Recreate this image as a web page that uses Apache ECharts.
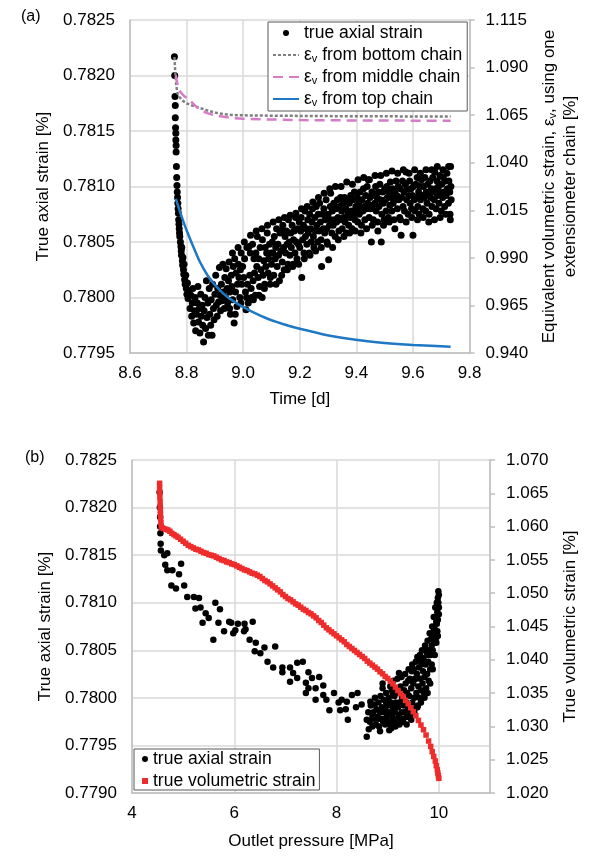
<!DOCTYPE html>
<html><head><meta charset="utf-8">
<script src="https://cdn.jsdelivr.net/npm/echarts@6/dist/echarts.min.js"></script>
<style>html,body{margin:0;padding:0;background:#fff}#c{width:589px;height:856px}</style>
</head><body><div id="c"></div>
<script>
const FONT = '"Liberation Sans", Arial, sans-serif';

// ---- tick labels ----
const timeTicks = [8.6, 8.8, 9.0, 9.2, 9.4, 9.6, 9.8];
const axialTicksA = [0.7795, 0.7800, 0.7805, 0.7810, 0.7815, 0.7820, 0.7825];
const volTicksA = [0.940, 0.965, 0.990, 1.015, 1.040, 1.065, 1.090, 1.115];
const pressureTicks = [4, 6, 8, 10, 11];
const axialTicksB = [0.7790, 0.7795, 0.7800, 0.7805, 0.7810, 0.7815, 0.7820, 0.7825];
const volTicksB = [1.020, 1.025, 1.030, 1.035, 1.040, 1.045, 1.050, 1.055, 1.060, 1.065, 1.070];

// ---- (a) true axial strain vs time [d, %] ----
const axialVsTime = [
[8.757,0.78217],[8.758,0.78200],[8.759,0.78181],[8.760,0.78173],[8.760,0.78162],[8.761,0.78153],[8.762,0.78148],[8.762,0.78142],[8.763,0.78137],[8.763,0.78131],[8.764,0.78118],[8.765,0.78108],[8.766,0.78101],[8.767,0.78095],[8.768,0.78090],[8.769,0.78085],[8.770,0.78080],[8.771,0.78076],[8.772,0.78070],[8.773,0.78066],[8.774,0.78062],[8.775,0.78058],[8.776,0.78055],
[8.778,0.78050],[8.780,0.78046],[8.781,0.78042],[8.782,0.78038],[8.783,0.78045],[8.785,0.78033],[8.786,0.78029],[8.787,0.78036],[8.789,0.78025],[8.790,0.78021],[8.791,0.78030],[8.793,0.78016],[8.795,0.78012],[8.797,0.78020],[8.799,0.78008],[8.801,0.78003],[8.803,0.78013],[8.805,0.77999],[8.807,0.78006],
[8.812,0.77990],[8.815,0.78002],[8.818,0.77983],[8.820,0.77995],[8.822,0.78008],[8.825,0.77977],[8.828,0.77988],[8.830,0.78000],[8.832,0.77970],[8.835,0.77985],[8.838,0.77995],[8.840,0.78010],[8.842,0.77978],[8.845,0.77990],[8.847,0.77968],[8.850,0.78003],[8.852,0.77983],[8.855,0.77993],[8.857,0.77975],[8.860,0.77960],[8.862,0.77988],[8.865,0.78000],[8.867,0.77972],[8.870,0.78015],[8.872,0.77982],[8.875,0.77995],[8.877,0.77966],[8.880,0.78008],[8.882,0.77985],[8.885,0.77975],[8.887,0.77998],[8.890,0.77966],[8.892,0.78012],[8.895,0.77990],[8.897,0.77980],[8.900,0.78003],[8.903,0.78020],[8.905,0.77993],[8.908,0.77983],[8.910,0.78008],[8.913,0.77996],[8.916,0.78027],[8.918,0.78002],[8.920,0.77988],[8.923,0.78012],[8.925,0.77997],[8.928,0.78030],[8.930,0.78005],[8.933,0.77990],[8.935,0.78018],[8.938,0.78000],[8.940,0.78026],[8.943,0.78008],[8.945,0.77995],[8.948,0.78015],[8.950,0.78032],[8.953,0.78005],[8.955,0.77985],[8.958,0.78020],[8.960,0.78010],[8.963,0.77998],[8.965,0.78028],[8.968,0.77977],[8.970,0.78035],[8.973,0.78005],[8.975,0.78022],[8.978,0.77992],[8.980,0.78012],[8.983,0.78030],[8.985,0.78018],[8.988,0.78000],[8.990,0.78025],[8.993,0.78040],[8.995,0.78012],[8.998,0.78028],
[9.002,0.78018],[9.005,0.78035],[9.008,0.78005],[9.010,0.77989],[9.013,0.78045],[9.015,0.78012],[9.018,0.77995],[9.021,0.78046],[9.023,0.78020],[9.025,0.78040],[9.028,0.78008],[9.030,0.78000],[9.033,0.78048],[9.035,0.78015],[9.038,0.78035],[9.040,0.78022],[9.043,0.78002],[9.045,0.78040],[9.048,0.78028],[9.050,0.78055],[9.053,0.78018],[9.055,0.78035],[9.058,0.78010],[9.060,0.78045],[9.063,0.78025],[9.067,0.78000],[9.068,0.78052],[9.070,0.78020],[9.073,0.78033],[9.075,0.78008],[9.078,0.78045],[9.080,0.78028],[9.083,0.78040],[9.085,0.78058],[9.088,0.78022],[9.090,0.78035],[9.093,0.78048],[9.095,0.78012],[9.098,0.78040],
[9.100,0.78030],[9.103,0.78050],[9.105,0.78040],[9.108,0.78020],[9.110,0.78055],[9.113,0.78035],[9.115,0.78045],[9.118,0.78062],[9.120,0.78028],[9.123,0.78048],[9.125,0.78038],[9.128,0.78015],[9.130,0.78058],[9.133,0.78042],[9.137,0.78060],[9.138,0.78032],[9.140,0.78065],[9.143,0.78045],[9.145,0.78025],[9.148,0.78055],[9.150,0.78040],[9.153,0.78060],[9.155,0.78048],[9.158,0.78030],[9.160,0.78070],[9.161,0.78028],[9.163,0.78050],[9.165,0.78038],[9.168,0.78058],[9.170,0.78045],[9.173,0.78065],[9.175,0.78028],[9.178,0.78052],[9.180,0.78060],[9.183,0.78040],[9.185,0.78072],[9.188,0.78050],[9.190,0.78035],[9.193,0.78062],[9.195,0.78048],[9.198,0.78068],
[9.200,0.78045],[9.203,0.78060],[9.205,0.78072],[9.207,0.78018],[9.210,0.78052],[9.213,0.78065],[9.215,0.78040],[9.218,0.78078],[9.220,0.78055],[9.223,0.78062],[9.225,0.78048],[9.228,0.78070],[9.230,0.78058],[9.233,0.78040],[9.235,0.78075],[9.238,0.78062],[9.240,0.78050],[9.243,0.78068],[9.245,0.78080],[9.248,0.78055],[9.250,0.78045],[9.253,0.78072],[9.255,0.78060],[9.258,0.78082],[9.260,0.78065],[9.263,0.78050],[9.265,0.78075],[9.268,0.78060],[9.270,0.78085],[9.273,0.78068],[9.275,0.78052],[9.277,0.78028],[9.280,0.78075],[9.283,0.78062],[9.285,0.78080],[9.288,0.78058],[9.290,0.78070],[9.293,0.78088],[9.295,0.78062],[9.298,0.78048],[9.300,0.78075],[9.302,0.78034],[9.305,0.78065],[9.308,0.78082],[9.309,0.78094],[9.310,0.78070],[9.313,0.78058],[9.315,0.78078],[9.318,0.78065],[9.320,0.78085],[9.323,0.78070],[9.325,0.78055],[9.328,0.78080],[9.330,0.78068],[9.333,0.78088],[9.335,0.78072],[9.338,0.78060],[9.340,0.78082],[9.344,0.78090],[9.345,0.78070],[9.348,0.78078],[9.350,0.78062],[9.353,0.78085],[9.355,0.78072],[9.358,0.78090],[9.360,0.78068],[9.363,0.78080],[9.365,0.78058],[9.368,0.78088],[9.370,0.78075],[9.373,0.78065],[9.375,0.78085],[9.378,0.78072],[9.380,0.78092],[9.383,0.78078],[9.385,0.78062],[9.388,0.78088],[9.390,0.78075],[9.393,0.78095],[9.395,0.78070],[9.398,0.78082],
[9.400,0.78078],[9.403,0.78090],[9.405,0.78068],[9.408,0.78085],[9.410,0.78075],[9.413,0.78095],[9.415,0.78080],[9.418,0.78065],[9.420,0.78088],[9.423,0.78078],[9.425,0.78098],[9.428,0.78082],[9.430,0.78070],[9.433,0.78092],[9.435,0.78080],[9.438,0.78100],[9.440,0.78085],[9.442,0.78106],[9.445,0.78072],[9.448,0.78090],[9.450,0.78080],[9.453,0.78050],[9.455,0.78095],[9.458,0.78083],[9.460,0.78070],[9.463,0.78092],[9.465,0.78085],[9.468,0.78100],[9.470,0.78078],[9.473,0.78090],[9.475,0.78068],[9.478,0.78095],[9.480,0.78082],[9.483,0.78102],[9.485,0.78088],[9.488,0.78050],[9.490,0.78075],[9.493,0.78095],[9.495,0.78085],[9.498,0.78070],[9.500,0.78098],[9.503,0.78088],[9.505,0.78078],[9.508,0.78100],[9.510,0.78090],[9.513,0.78072],[9.515,0.78095],[9.518,0.78083],[9.520,0.78104],[9.523,0.78090],[9.525,0.78078],[9.528,0.78098],[9.530,0.78085],[9.533,0.78070],[9.535,0.78095],[9.538,0.78088],[9.540,0.78105],[9.543,0.78092],[9.545,0.78080],[9.548,0.78100],[9.550,0.78088],[9.553,0.78072],[9.555,0.78098],[9.558,0.78056],[9.560,0.78090],[9.563,0.78105],[9.565,0.78082],[9.568,0.78095],[9.570,0.78078],[9.573,0.78102],[9.575,0.78113],[9.578,0.78088],[9.580,0.78098],[9.583,0.78075],[9.585,0.78092],[9.588,0.78105],[9.590,0.78085],[9.593,0.78098],[9.595,0.78080],[9.598,0.78092],
[9.600,0.78056],[9.602,0.78100],[9.605,0.78088],[9.607,0.78078],[9.610,0.78102],[9.612,0.78090],[9.615,0.78108],[9.617,0.78082],[9.620,0.78095],[9.622,0.78075],[9.625,0.78100],[9.627,0.78088],[9.630,0.78106],[9.632,0.78092],[9.635,0.78080],[9.637,0.78100],[9.640,0.78090],[9.642,0.78108],[9.645,0.78078],[9.647,0.78095],[9.650,0.78085],[9.652,0.78102],[9.655,0.78092],[9.657,0.78075],[9.660,0.78105],[9.662,0.78090],[9.665,0.78098],[9.667,0.78082],[9.670,0.78108],[9.672,0.78095],[9.675,0.78088],[9.677,0.78113],[9.680,0.78098],[9.682,0.78080],[9.685,0.78105],[9.687,0.78092],[9.690,0.78100],[9.692,0.78085],[9.695,0.78110],[9.697,0.78095],[9.700,0.78078],[9.702,0.78102],[9.705,0.78090],[9.707,0.78108],[9.710,0.78095],[9.712,0.78082],[9.715,0.78105],[9.717,0.78092],[9.720,0.78112],[9.722,0.78098],[9.725,0.78085],[9.727,0.78105],[9.730,0.78095],[9.731,0.78075],[9.733,0.78118],[9.734,0.78100],[9.735,0.78088],
[8.952,0.77990],[8.962,0.78040],[8.972,0.77985],[8.982,0.78045],[8.992,0.77995],[9.004,0.78050],[9.012,0.78000],[9.026,0.78056],[9.036,0.77998],[9.046,0.78060],[9.056,0.78002],[9.066,0.78062],[9.076,0.78012],[9.086,0.78065],[9.096,0.78018],[9.106,0.78068],[9.116,0.78012],[9.126,0.78070],[9.136,0.78020],[9.146,0.78072],[9.156,0.78025],[9.166,0.78074],[9.176,0.78030],[9.186,0.78076],[9.196,0.78030],[9.206,0.78080],[9.216,0.78035],[9.226,0.78082],[9.236,0.78038],[9.246,0.78086],[9.256,0.78042],[9.266,0.78090],[9.276,0.78045],[9.286,0.78094],[9.296,0.78050],[9.306,0.78098],[9.316,0.78045],[9.326,0.78100],[9.336,0.78052],[9.346,0.78100],[9.356,0.78055],[9.366,0.78104],[9.376,0.78058],[9.386,0.78102],[9.396,0.78060],[9.406,0.78106],[9.416,0.78058],[9.426,0.78108],[9.436,0.78062],[9.446,0.78106],[9.456,0.78065],[9.466,0.78110],[9.476,0.78060],[9.486,0.78110],[9.496,0.78065],[9.506,0.78112],[9.516,0.78068],[9.526,0.78114],[9.536,0.78062],[9.546,0.78112],[9.556,0.78070],[9.566,0.78115],[9.576,0.78068],[9.586,0.78112],[9.596,0.78072],[9.606,0.78115],[9.616,0.78070],[9.626,0.78112],[9.636,0.78072],[9.646,0.78115],[9.656,0.78068],[9.666,0.78115],[9.676,0.78070],[9.686,0.78118],[9.696,0.78072],[9.706,0.78115],[9.716,0.78075],[9.726,0.78118],[9.732,0.78070]
];

// ---- (a) equivalent volumetric strain from one chain [d, %] ----
const bottomChain = [[8.757,1.0955],[8.759,1.0900],[8.761,1.0850],[8.764,1.0800],[8.768,1.0765],[8.775,1.0745],[8.787,1.0725],[8.800,1.0712],[8.820,1.0700],[8.846,1.0688],[8.875,1.0674],[8.905,1.0662],[8.935,1.0655],[8.960,1.0651],[9.000,1.0649],[9.100,1.0647],[9.200,1.0646],[9.300,1.0645],[9.400,1.0644],[9.500,1.0644],[9.600,1.0643],[9.733,1.0643]];
const middleChain = [[8.762,1.0860],[8.765,1.0830],[8.770,1.0800],[8.778,1.0772],[8.790,1.0752],[8.810,1.0730],[8.830,1.0700],[8.850,1.0677],[8.870,1.0662],[8.900,1.0648],[8.960,1.0635],[9.000,1.0631],[9.100,1.0627],[9.200,1.0624],[9.300,1.0623],[9.400,1.0622],[9.500,1.0622],[9.600,1.0621],[9.733,1.0621]];
const topChain = [[8.762,1.0210],[8.775,1.0150],[8.790,1.0085],[8.800,1.0045],[8.820,0.9972],[8.846,0.9882],[8.875,0.9806],[8.905,0.9750],[8.930,0.9712],[8.960,0.9678],[9.000,0.9641],[9.040,0.9611],[9.080,0.9584],[9.120,0.9562],[9.160,0.9543],[9.200,0.9527],[9.280,0.9499],[9.360,0.9478],[9.440,0.9462],[9.520,0.9450],[9.600,0.9442],[9.733,0.9433]];

// ---- (b) true axial strain vs outlet pressure [MPa, %] ----
const axialVsPressure = [
[4.540,0.78216],[4.545,0.78200],[4.550,0.78190],[4.550,0.78180],[4.555,0.78173],[4.560,0.78162],[4.565,0.78155],[4.630,0.78150],[4.690,0.78152],[4.650,0.78140],[4.690,0.78134],[4.790,0.78134],[4.960,0.78141],[4.920,0.78130],[4.770,0.78118],[4.860,0.78115],[5.020,0.78118],[5.080,0.78106],[5.210,0.78106],[5.310,0.78105],[5.240,0.78094],[5.340,0.78095],[5.440,0.78089],[5.500,0.78084],[5.630,0.78100],[5.720,0.78093],[5.380,0.78079],[5.690,0.78079],[5.900,0.78080],[5.940,0.78079],[6.070,0.78078],[6.200,0.78078],[6.360,0.78080],[6.020,0.78071],[6.190,0.78070],[5.590,0.78061],[5.800,0.78070],[5.980,0.78068],[6.220,0.78072],[6.300,0.78061],[6.420,0.78058],[6.590,0.78053],[6.800,0.78054],[6.400,0.78049],[6.510,0.78047],[6.650,0.78038],[6.760,0.78032],[6.940,0.78032],[7.090,0.78032],[7.230,0.78037],[7.340,0.78038],[6.940,0.78027],[7.150,0.78026],[7.230,0.78021],[7.090,0.78017],[7.450,0.78027],[7.520,0.78021],[7.400,0.78016],[7.660,0.78022],[7.450,0.78010],[7.590,0.78010],[7.740,0.78013],[7.400,0.78005],[7.590,0.77998],[7.800,0.77998],[7.740,0.78003],[7.950,0.78005],[7.860,0.77987],[8.040,0.77995],[8.100,0.77998],[8.200,0.77996],[8.300,0.78003],[8.410,0.78005],[8.070,0.77987],[8.180,0.77988],[8.380,0.77990],[8.220,0.77977],[8.490,0.77993],[8.660,0.77996],[8.590,0.77977],[8.630,0.77967],[8.590,0.77959],[8.700,0.77980],[8.820,0.77978],[9.030,0.77966],[8.900,0.78010],[8.970,0.77995],[8.740,0.77993],[9.100,0.78005],[9.220,0.78026],[9.250,0.77995],[9.390,0.77987],[9.460,0.77977],[9.560,0.77990],[9.260,0.77977],
[8.620,0.77985],[8.650,0.77975],[8.670,0.77992],[8.700,0.77970],[8.720,0.77985],[8.740,0.77978],[8.750,0.78000],[8.770,0.77972],[8.780,0.77988],[8.800,0.77980],[8.820,0.77995],[8.830,0.77970],[8.850,0.77985],[8.860,0.78002],[8.880,0.77978],[8.890,0.77990],[8.910,0.77975],[8.920,0.77998],[8.940,0.77985],[8.950,0.77972],[8.970,0.78005],[8.980,0.77980],[9.000,0.77992],
[9.010,0.77975],[9.020,0.78000],[9.040,0.77985],[9.050,0.77972],[9.060,0.77995],[9.080,0.78008],[9.090,0.77980],[9.100,0.77990],[9.120,0.77975],[9.130,0.78002],[9.140,0.77985],[9.160,0.77995],[9.170,0.78010],[9.180,0.77978],[9.200,0.77990],[9.210,0.78005],[9.220,0.77982],[9.240,0.77995],[9.250,0.78012],[9.270,0.77985],[9.280,0.78000],[9.290,0.77978],[9.310,0.77992],[9.320,0.78008],[9.330,0.77985],[9.350,0.78015],[9.360,0.77995],[9.370,0.77980],[9.380,0.78005],[9.400,0.78018],[9.410,0.77990],
[9.420,0.78002],[9.430,0.78020],[9.450,0.77985],[9.460,0.78010],[9.470,0.78028],[9.480,0.77995],[9.500,0.78015],[9.510,0.78030],[9.520,0.78000],[9.530,0.78020],[9.550,0.78038],[9.560,0.78005],[9.570,0.78025],[9.580,0.78043],[9.590,0.77992],[9.600,0.78012],[9.610,0.78032],[9.620,0.78000],[9.630,0.78045],[9.640,0.78020],[9.650,0.78008],[9.660,0.78035],[9.670,0.78050],[9.680,0.78015],[9.690,0.78028],[9.700,0.78042],[9.710,0.78005],[9.720,0.78022],[9.730,0.78055],[9.740,0.78035],[9.750,0.78010],[9.760,0.78048],[9.770,0.78025],[9.780,0.78060],[9.790,0.78038],[9.800,0.78018],
[9.810,0.78050],[9.820,0.78068],[9.830,0.78030],[9.840,0.78045],[9.850,0.78062],[9.860,0.78035],[9.870,0.78075],[9.880,0.78050],[9.890,0.78065],[9.900,0.78085],[9.910,0.78058],[9.920,0.78072],[9.930,0.78095],[9.940,0.78062],[9.950,0.78080],[9.960,0.78100],[9.970,0.78070],[9.970,0.78090],[9.980,0.78105],[9.980,0.78082],[9.990,0.78112],[9.990,0.78095],[10.000,0.78108],[10.000,0.78088],
[8.850,0.77965],[8.900,0.78015],[8.950,0.77988],[9.050,0.78012],[9.070,0.77968],[9.110,0.78018],[9.150,0.77970],[9.190,0.78020],[9.230,0.77972],[9.270,0.78022],[9.300,0.77975],[9.340,0.78025],[9.370,0.77972],[9.410,0.78030],[9.440,0.77980],[9.480,0.78035],[9.520,0.77985],[9.550,0.78020],[9.580,0.77990],[9.620,0.78040],[9.650,0.77995],[9.680,0.78040],[9.720,0.78000],[9.750,0.78050],[9.780,0.78005],[9.800,0.78045],[9.830,0.78015],[9.860,0.78055],[9.880,0.78030],[9.900,0.78070],[9.920,0.78045],[9.940,0.78085],[9.950,0.78058],[9.960,0.78078],[9.970,0.78100],[9.980,0.78065],[9.990,0.78100],[10.000,0.78095]
];

// ---- (b) true volumetric strain vs outlet pressure [MPa, %] ----
const volVsPressure = [
[4.540,1.0665],[4.540,1.0658],[4.545,1.0651],[4.545,1.0644],[4.550,1.0637],[4.550,1.0630],[4.555,1.0624],[4.555,1.0618],[4.560,1.0612],[4.565,1.0606],[4.570,1.0601],[4.590,1.0598],[4.620,1.0597],[4.660,1.0596],[4.700,1.0595],[4.740,1.0593],[4.780,1.0590],[4.820,1.0588],[4.860,1.0586],[4.900,1.0584],[4.950,1.0581],[5.000,1.0578],[5.050,1.0575],[5.100,1.0572],[5.150,1.0570],[5.200,1.0568],[5.250,1.0566],[5.300,1.0565],[5.350,1.0563],[5.400,1.0561],[5.450,1.0560],[5.500,1.0558],[5.550,1.0557],[5.600,1.0556],[5.650,1.0554],[5.700,1.0552],[5.750,1.0550],[5.800,1.0549],[5.850,1.0547],[5.900,1.0546],[5.950,1.0544],[6.000,1.0543],[6.050,1.0541],[6.100,1.0539],[6.150,1.0537],[6.200,1.0535],[6.250,1.0534],[6.300,1.0532],[6.350,1.0530],[6.400,1.0529],[6.450,1.0527],[6.500,1.0525],[6.550,1.0522],[6.600,1.0519],[6.650,1.0517],[6.700,1.0514],[6.750,1.0511],[6.800,1.0508],[6.850,1.0505],[6.900,1.0502],[6.950,1.0498],[7.000,1.0495],[7.050,1.0492],[7.100,1.0490],[7.150,1.0487],[7.200,1.0484],[7.250,1.0482],[7.300,1.0479],[7.350,1.0476],[7.400,1.0474],[7.450,1.0471],[7.500,1.0469],[7.550,1.0466],[7.600,1.0463],[7.650,1.0459],[7.700,1.0456],[7.750,1.0452],[7.800,1.0448],[7.850,1.0445],[7.900,1.0442],[7.950,1.0439],[8.000,1.0436],[8.050,1.0433],[8.100,1.0430],[8.150,1.0427],[8.200,1.0423],[8.250,1.0420],[8.300,1.0417],[8.350,1.0414],[8.400,1.0411],[8.450,1.0408],[8.500,1.0405],[8.550,1.0402],[8.600,1.0398],[8.650,1.0395],[8.700,1.0392],[8.750,1.0389],[8.800,1.0386],[8.850,1.0382],[8.900,1.0379],[8.950,1.0375],[9.000,1.0372],[9.050,1.0368],[9.100,1.0364],[9.150,1.0359],[9.200,1.0354],[9.250,1.0349],[9.300,1.0345],[9.350,1.0339],[9.400,1.0334],[9.450,1.0328],[9.500,1.0322],[9.550,1.0316],[9.600,1.0309],[9.650,1.0302],[9.700,1.0295],[9.750,1.0287],[9.800,1.0278],[9.840,1.0270],[9.870,1.0262],[9.900,1.0255],[9.930,1.0248],[9.950,1.0241],[9.970,1.0235],[9.980,1.0230],[9.990,1.0226],[10.000,1.0222]
];

const GRID_C = '#d9d9d9', AXIS_C = '#bfbfbf', TXT = '#000';
const FS = 17, LFS = 17.5;
const subRich = {
  e: { fontSize: FS, fontFamily: FONT, color: TXT },
  s: { fontSize: 11, fontFamily: FONT, color: TXT, padding: [7, 0, 0, 0] }
};
const subRichL = {
  e: { fontSize: LFS, fontFamily: FONT, color: TXT },
  s: { fontSize: 11, fontFamily: FONT, color: TXT, padding: [7, 0, 0, 0] }
};

function xAx(grid, ticks, name, gap, fmt) {
  return {
    type: 'value', gridIndex: grid, min: ticks[0], max: ticks[ticks.length - 1],
    interval: ticks[1] - ticks[0],
    name: name, nameLocation: 'middle', nameGap: gap,
    nameTextStyle: { fontFamily: FONT, fontSize: FS, color: TXT },
    axisLine: { show: true, lineStyle: { color: AXIS_C, width: 1.5 } },
    axisTick: { show: false },
    axisLabel: { fontFamily: FONT, fontSize: FS, color: TXT, margin: 12, formatter: fmt, showMaxLabel: grid === 0 },
    splitLine: { show: true, lineStyle: { color: GRID_C, width: 1.5 } }
  };
}
function yLeft(grid, ticks, name, gap) {
  return {
    type: 'value', gridIndex: grid, position: 'left', min: ticks[0], max: ticks[ticks.length - 1],
    interval: 0.0005,
    name: name, nameLocation: 'middle', nameGap: gap, nameRotate: 90,
    nameTextStyle: { fontFamily: FONT, fontSize: FS, color: TXT },
    axisLine: { show: true, lineStyle: { color: AXIS_C, width: 1.5 } },
    axisTick: { show: false },
    axisLabel: { fontFamily: FONT, fontSize: FS, color: TXT, margin: 15, formatter: v => v.toFixed(4) },
    splitLine: { show: true, lineStyle: { color: GRID_C, width: 1.5 } }
  };
}
function yRight(grid, ticks, name, gap, rich) {
  return {
    type: 'value', gridIndex: grid, position: 'right', min: ticks[0], max: ticks[ticks.length - 1],
    name: name, nameLocation: 'middle', nameGap: gap, nameRotate: 90,
    nameTextStyle: { fontFamily: FONT, fontSize: FS, color: TXT, lineHeight: 21, rich: rich },
    axisLine: { show: true, lineStyle: { color: AXIS_C, width: 1.5 } },
    axisTick: { show: true, inside: false, length: 5, customValues: ticks, lineStyle: { color: AXIS_C, width: 1.5 } },
    axisLabel: { fontFamily: FONT, fontSize: FS, color: TXT, margin: 16, customValues: ticks, formatter: v => v.toFixed(3) },
    splitLine: { show: false }
  };
}

const legendFmt = name => name.indexOf('εv') === 0 ? '{e|ε}{s|v}' + name.slice(2) : name;
const noSym = { opacity: 0 };

const option = {
  backgroundColor: '#fff',
  animation: false,
  textStyle: { fontFamily: FONT },
  title: [
    { text: '(a)', left: 16, top: 4, textStyle: { fontFamily: FONT, fontSize: 16, fontWeight: 'normal', color: TXT } },
    { text: '(b)', left: 20, top: 445, textStyle: { fontFamily: FONT, fontSize: 16, fontWeight: 'normal', color: TXT } }
  ],
  grid: [
    { left: 130, top: 20, width: 342, height: 333 },
    { left: 132, top: 460, width: 366, height: 333 }
  ],
  xAxis: [
    xAx(0, timeTicks, 'Time [d]', 38, v => v.toFixed(1)),
    xAx(1, pressureTicks, 'Outlet pressure [MPa]', 40, v => String(v))
  ],
  yAxis: [
    yLeft(0, axialTicksA, 'True axial strain [%]', 77),
    yRight(0, volTicksA, 'Equivalent volumetric strain, {e|ε}{s|v}, using one\nextensiometer chain [%]', 60, subRich),
    yLeft(1, axialTicksB, 'True axial strain [%]', 77),
    yRight(1, volTicksB, 'True volumetric strain [%]', 70, null)
  ],
  legend: [
    {
      orient: 'vertical', left: 268, top: 22,
      data: [
        { name: 'true axial strain' },
        { name: 'εv from bottom chain', itemStyle: noSym },
        { name: 'εv from middle chain', itemStyle: noSym },
        { name: 'εv from top chain', itemStyle: noSym }
      ],
      itemWidth: 26, itemHeight: 6, itemGap: 4,
      padding: [2, 5, 3, 4],
      borderColor: '#595959', borderWidth: 1, backgroundColor: '#fff',
      formatter: legendFmt,
      textStyle: { fontFamily: FONT, fontSize: LFS, color: TXT, lineHeight: 18, rich: subRichL },
      selectedMode: false
    },
    {
      orient: 'vertical', left: 134, top: 749,
      data: ['true axial strain', 'true volumetric strain'],
      itemWidth: 6, itemHeight: 6, itemGap: 4,
      padding: [1, 4, 0, 8],
      borderColor: '#595959', borderWidth: 1, backgroundColor: '#fff',
      textStyle: { fontFamily: FONT, fontSize: LFS, color: TXT, lineHeight: 18 },
      selectedMode: false
    }
  ],
  series: [
    { name: 'true axial strain', type: 'scatter', xAxisIndex: 0, yAxisIndex: 0, data: axialVsTime,
      symbol: 'circle', symbolSize: 7, itemStyle: { color: '#000', opacity: 1 } },
    { name: 'εv from bottom chain', type: 'line', xAxisIndex: 0, yAxisIndex: 1, data: bottomChain,
      symbol: 'none', lineStyle: { color: '#7f7f7f', width: 2.5, type: [3, 2] }, itemStyle: { color: '#7f7f7f' } },
    { name: 'εv from middle chain', type: 'line', xAxisIndex: 0, yAxisIndex: 1, data: middleChain,
      symbol: 'none', lineStyle: { color: '#d67bc4', width: 2.5, type: [10, 6] }, itemStyle: { color: '#d67bc4' } },
    { name: 'εv from top chain', type: 'line', xAxisIndex: 0, yAxisIndex: 1, data: topChain,
      symbol: 'none', smooth: 0.2, lineStyle: { color: '#1f78c3', width: 2.5 }, itemStyle: { color: '#1f78c3' } },
    { name: 'true axial strain', type: 'scatter', xAxisIndex: 1, yAxisIndex: 2, data: axialVsPressure,
      symbol: 'circle', symbolSize: 6.5, itemStyle: { color: '#000', opacity: 1 } },
    { name: 'true volumetric strain', type: 'scatter', xAxisIndex: 1, yAxisIndex: 3, data: volVsPressure,
      symbol: 'rect', symbolSize: 5.5, itemStyle: { color: '#ee2c2c', opacity: 1 } }
  ]
};

const chart = echarts.init(document.getElementById('c'), null, { renderer: 'canvas' });
chart.setOption(option);
</script>
</body></html>
